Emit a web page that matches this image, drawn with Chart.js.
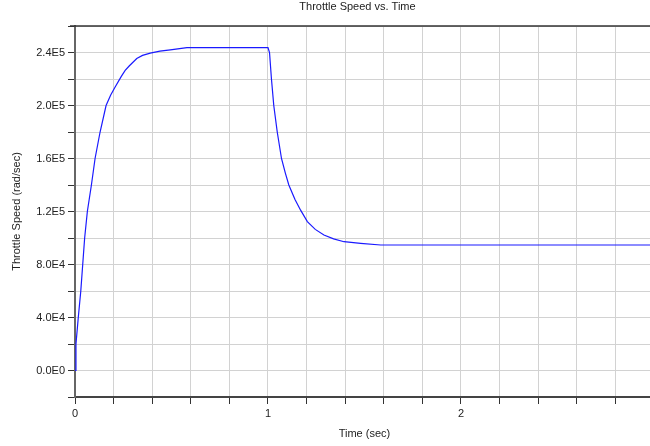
<!DOCTYPE html>
<html>
<head>
<meta charset="utf-8">
<script src="https://cdn.jsdelivr.net/npm/chart.js@4"></script>
<style>
  html, body { margin: 0; padding: 0; background: #fff; overflow: hidden; }
  #wrap { width: 660px; height: 446px; position: relative; }
</style>
</head>
<body>
<div id="wrap"><canvas id="chart"></canvas></div>
<script>
// ===== DATA =====
const chartTitle = "Throttle Speed vs. Time";
const xTitle = "Time (sec)";
const yTitle = "Throttle Speed (rad/sec)";

const timeSec = [
  0, 0.005, 0.017, 0.03, 0.04, 0.05, 0.064, 0.085, 0.104, 0.13, 0.161,
  0.185, 0.208, 0.24, 0.26, 0.282, 0.32, 0.35, 0.39, 0.44, 0.494, 0.58, 1.0,
  1.008, 1.018, 1.03, 1.048, 1.07, 1.09, 1.108, 1.14, 1.169, 1.204, 1.245,
  1.29, 1.34, 1.394, 1.48, 1.584, 3.0
];
const speedRadSec = [
  0, 20000, 40000, 60000, 80000, 100000, 120000, 140000, 160000, 180000, 200000,
  208000, 214000, 222000, 226500, 230000, 235500, 237800, 239500, 241000, 242000, 243700, 243700,
  240000, 220000, 200000, 180000, 160000, 149000, 140000, 129000, 121000, 112400, 106500,
  102300, 99300, 97200, 96000, 94700, 94700
];

const xTickValues = [0, 1, 2, 3];
const xTickLabels = ["0", "1", "2", "3"];
const yTickValues = [0, 40000, 80000, 120000, 160000, 200000, 240000];
const yTickLabels = ["0.0E0", "4.0E4", "8.0E4", "1.2E5", "1.6E5", "2.0E5", "2.4E5"];

// ===== HELPERS =====
const FONT = '"Liberation Sans", Arial, sans-serif';

function labelFor(values, labels, v) {
  const i = values.findIndex(t => Math.abs(t - v) < 1e-6);
  return i >= 0 ? labels[i] : "";
}

// title + top frame line
const framePlugin = {
  id: "frame",
  afterDraw(chart) {
    const { ctx, chartArea: a } = chart;
    ctx.save();
    ctx.strokeStyle = "#333";
    ctx.lineWidth = 1.5;
    ctx.beginPath();
    ctx.moveTo(a.left - 5, a.top);
    ctx.lineTo(a.right, a.top);
    ctx.stroke();
    ctx.fillStyle = "#222";
    ctx.font = "11px " + FONT;
    ctx.textAlign = "center";
    ctx.textBaseline = "middle";
    ctx.fillText(chartTitle, (a.left + a.right) / 2 - 7, 7);
    ctx.restore();
  }
};

// ===== CHART =====
new Chart(document.getElementById("chart"), {
  type: "scatter",
  data: {
    datasets: [{
      data: timeSec.map((t, i) => ({ x: t, y: speedRadSec[i] })),
      showLine: true,
      borderColor: "#1a1aff",
      borderWidth: 1.2,
      pointRadius: 0,
      tension: 0
    }]
  },
  options: {
    responsive: true,
    maintainAspectRatio: false,
    animation: false,
    devicePixelRatio: 1,
    layout: { padding: { top: 26, left: 0, right: 0, bottom: 0 } },
    plugins: {
      legend: { display: false },
      title: { display: false },
      tooltip: { enabled: false }
    },
    scales: {
      x: {
        type: "linear",
        min: 0,
        max: 3,
        afterFit: s => { s.height = 49; },
        ticks: {
          stepSize: 0.2,
          autoSkip: false,
          maxRotation: 0,
          padding: 3,
          color: "#222",
          font: { family: FONT, size: 11 },
          callback: v => labelFor(xTickValues, xTickLabels, v)
        },
        grid: { color: "#d2d2d2", lineWidth: 1, tickColor: "#333", tickLength: 7 },
        border: { display: true, color: "#444", width: 2 },
        title: {
          display: true,
          text: xTitle,
          color: "#222",
          font: { family: FONT, size: 11 },
          padding: { top: 0, bottom: 5 }
        }
      },
      y: {
        min: -20000,
        max: 260000,
        afterFit: s => { s.width = 75; },
        ticks: {
          stepSize: 20000,
          autoSkip: false,
          padding: 3,
          color: "#222",
          font: { family: FONT, size: 11 },
          callback: v => labelFor(yTickValues, yTickLabels, v)
        },
        grid: { color: "#d2d2d2", lineWidth: 1, tickColor: "#333", tickLength: 7 },
        border: { display: true, color: "#666", width: 2 },
        title: {
          display: true,
          text: yTitle,
          color: "#222",
          font: { family: FONT, size: 11 },
          padding: { top: 10, bottom: 0 }
        }
      }
    }
  },
  plugins: [framePlugin]
});
</script>
</body>
</html>
